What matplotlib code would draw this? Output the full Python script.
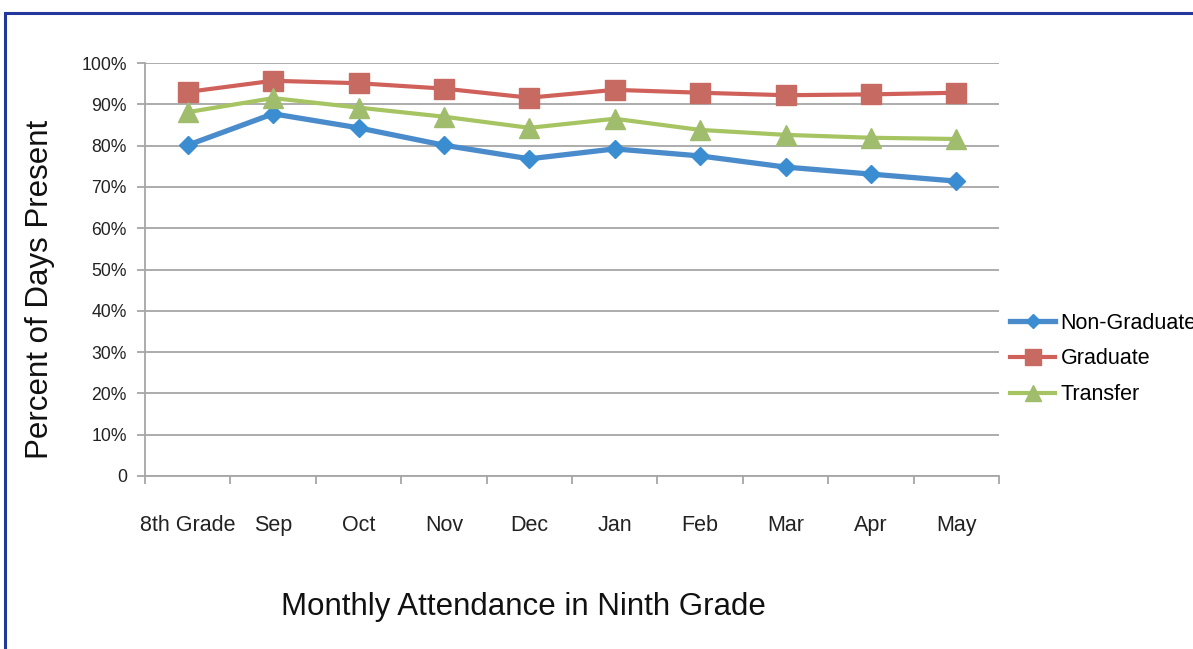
import matplotlib.pyplot as plt
from matplotlib.patches import Rectangle
from matplotlib.ticker import FixedLocator, FuncFormatter

plt.rcParams['font.family'] = ['Liberation Sans', 'DejaVu Sans']

months = ['8th Grade', 'Sep', 'Oct', 'Nov', 'Dec', 'Jan', 'Feb', 'Mar', 'Apr', 'May']
non_graduate = [0.801, 0.877, 0.843, 0.801, 0.768, 0.792, 0.775, 0.748, 0.731, 0.714]
graduate = [0.930, 0.957, 0.951, 0.938, 0.916, 0.935, 0.928, 0.922, 0.924, 0.928]
transfer = [0.881, 0.915, 0.892, 0.870, 0.843, 0.865, 0.838, 0.826, 0.819, 0.816]

fig = plt.figure(figsize=(11.93, 6.49), dpi=100)
ax = fig.add_axes([145 / 1193, 1 - 476 / 649, (999 - 145) / 1193, (476 - 63) / 649])

x = range(len(months))
ax.plot(x, non_graduate, color='#4a8bcb', lw=3.8, marker='D', ms=9,
        mfc='#3a8dd0', mec='#3a8dd0', label='Non-Graduate')
ax.plot(x, graduate, color='#d0615a', lw=3.0, marker='s', ms=14,
        mfc='#c76a62', mec='#c76a62', label='Graduate')
ax.plot(x, transfer, color='#a6c462', lw=3.0, marker='^', ms=14,
        mfc='#9fbd6c', mec='#9fbd6c', label='Transfer')

ax.set_xlim(-0.5, len(months) - 0.5)
ax.set_ylim(0, 1)
ax.set_yticks([i / 10 for i in range(11)])
ax.yaxis.set_major_formatter(FuncFormatter(lambda v, p: '0' if v == 0 else f'{v * 100:.0f}%'))
ax.grid(axis='y', color='#a6a6a6', lw=1.3)
ax.set_axisbelow(True)

ax.set_xticks(list(x))
ax.set_xticklabels(months, fontsize=15.5, color='#222222')
ax.tick_params(axis='x', which='major', length=0, pad=28)
ax.xaxis.set_minor_locator(FixedLocator([i - 0.5 for i in range(len(months) + 1)]))
ax.tick_params(axis='x', which='minor', length=6, width=1.3, color='#a6a6a6')
ax.tick_params(axis='y', length=6, width=1.3, color='#a6a6a6', labelsize=12.7,
               labelcolor='#222222', pad=7)

for s in ['top', 'right']:
    ax.spines[s].set_visible(False)
for s in ['left', 'bottom']:
    ax.spines[s].set_color('#a6a6a6')
    ax.spines[s].set_linewidth(1.3)

fig.text(40 / 1193, 1 - 289 / 649, 'Percent of Days Present', rotation=90,
         fontsize=22.5, ha='center', va='center', color='#111111')
fig.text(523 / 1193, 1 - 607 / 649, 'Monthly Attendance in Ninth Grade',
         fontsize=22.5, ha='center', va='center', color='#111111')

fig.legend(loc='center left', bbox_to_anchor=(1010 / 1193, 1 - 359 / 649),
           frameon=False, fontsize=15.5, handlelength=2.1, handletextpad=0.25,
           labelspacing=0.68, borderpad=0, borderaxespad=0, markerscale=0.8)

fig.patches.append(Rectangle((5 / 1193, -0.1), 1.2, 1 - 13 / 649 + 0.1,
                             transform=fig.transFigure, fill=False,
                             ec='#23389a', lw=2.2))

fig.savefig('out.png', dpi=100)
